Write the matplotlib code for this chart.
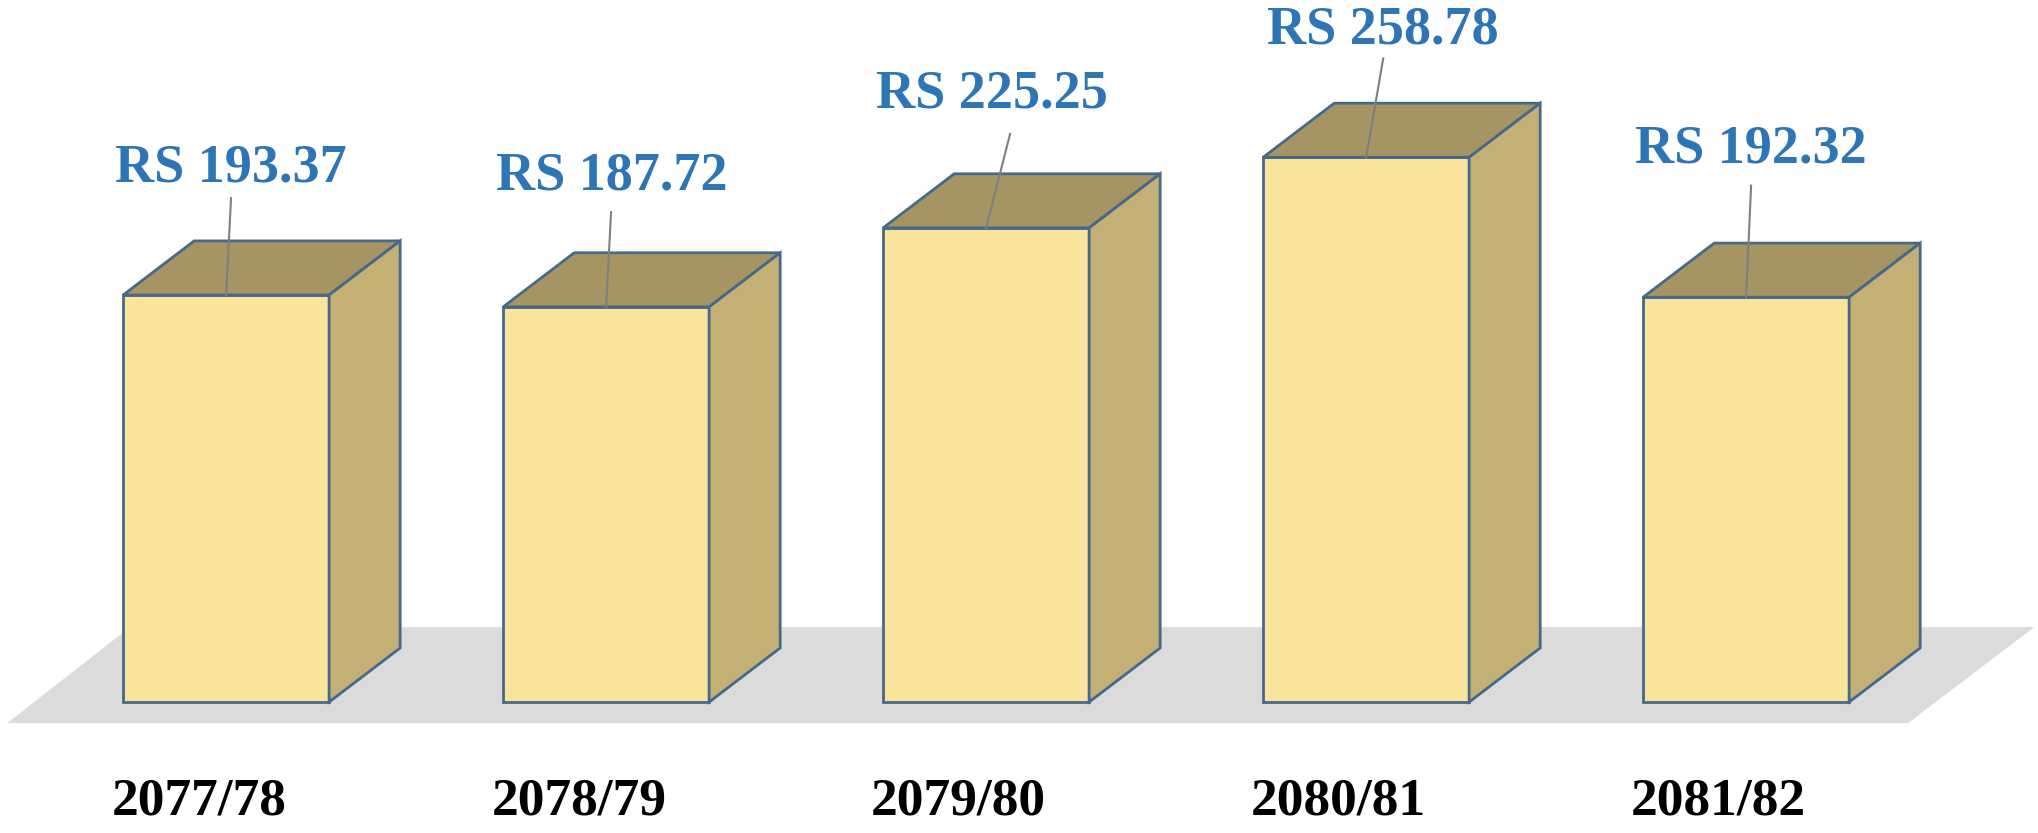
import matplotlib
matplotlib.use("Agg")
import matplotlib.pyplot as plt
from matplotlib.patches import Polygon

# ============================================
# DATA
# ============================================

years = ["2077/78", "2078/79", "2079/80", "2080/81", "2081/82"]
values = [193.37, 187.72, 225.25, 258.78, 192.32]
value_labels = ["RS 193.37", "RS 187.72", "RS 225.25", "RS 258.78", "RS 192.32"]

# label placement relative to the top-front centre of each bar (x in bar units, y in value units)
label_dx = [0.013, 0.016, 0.016, 0.045, 0.013]
label_dy = [60, 62, 63.5, 60, 70]
line_dx = [0.013, 0.013, 0.063, 0.045, 0.013]
line_dy = [46, 45, 44.6, 47, 53]

# ============================================
# STYLE
# ============================================

FRONT = "#FAE39A"
TOP = "#A69562"
SIDE = "#C4AF74"
EDGE = "#45698A"
FLOOR = "#DCDBDC"
LABEL_BLUE = "#2E75B6"

bar_width = 0.542
depth_x = 0.187
depth_y = 25.7

fig = plt.figure(figsize=(20.38, 8.33), dpi=100)
ax = fig.add_axes([0, 0, 1, 1])
ax.set_xlim(-0.595, 4.768)
ax.set_ylim(-62.2, 333.5)
ax.axis("off")

# grey floor under the bars
floor = Polygon([(-0.576, -10), (4.426, -10), (4.758, 35.6), (-0.253, 35.6)],
                closed=True, facecolor=FLOOR, edgecolor="none", zorder=0)
ax.add_patch(floor)

x = list(range(len(years)))
ax.bar(x, values, width=bar_width, color=FRONT, edgecolor=EDGE, linewidth=2, zorder=2)

for i, v in enumerate(values):
    l = i - bar_width / 2
    r = i + bar_width / 2
    top = Polygon([(l, v), (r, v), (r + depth_x, v + depth_y), (l + depth_x, v + depth_y)],
                  closed=True, facecolor=TOP, edgecolor=EDGE, linewidth=2, zorder=2)
    side = Polygon([(r, 0), (r + depth_x, depth_y), (r + depth_x, v + depth_y), (r, v)],
                   closed=True, facecolor=SIDE, edgecolor=EDGE, linewidth=2, zorder=2)
    ax.add_patch(top)
    ax.add_patch(side)

    # leader line and value label
    ax.plot([i + line_dx[i], i], [v + line_dy[i], v], color="#7F7F7F", lw=1.5, zorder=3)
    ax.text(i + label_dx[i], v + label_dy[i], value_labels[i], color=LABEL_BLUE,
            fontsize=39, fontweight="bold", family="Liberation Serif",
            ha="center", va="center", zorder=4)

    ax.text(i - 0.072, -47, years[i], color="black", fontsize=38.5, fontweight="bold",
            family="Liberation Serif", ha="center", va="center")

fig.savefig("out.png", dpi=100, facecolor="white")
